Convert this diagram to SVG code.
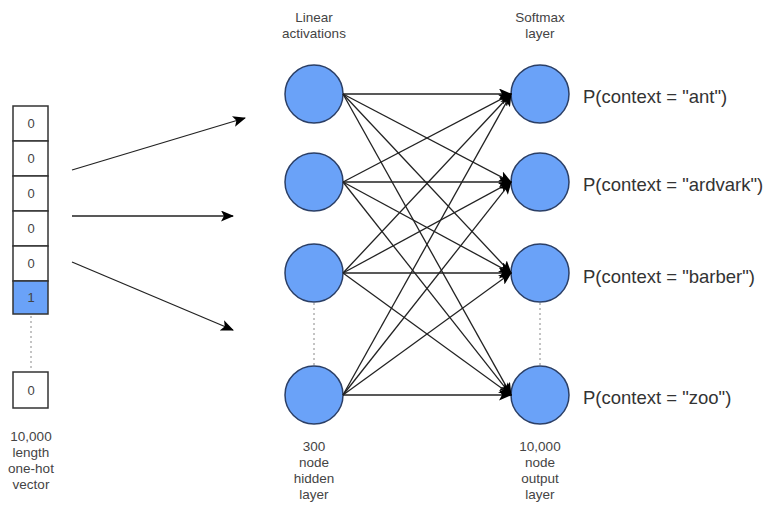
<svg xmlns="http://www.w3.org/2000/svg" width="768" height="510" viewBox="0 0 768 510">
<defs>
<marker id="ah" markerUnits="userSpaceOnUse" markerWidth="13" markerHeight="11" refX="12" refY="5.5" orient="auto">
<path d="M0,0 L13,5.5 L0,11 L3,5.5 Z" fill="#000"/>
</marker>
<style>
.cell{fill:#fff;stroke:#333;stroke-width:1.5}
.hot{fill:#6aa2f8;stroke:#333;stroke-width:1.5}
.node{fill:#6aa2f8;stroke:#2b3f66;stroke-width:1.5}
.num{font-family:"Liberation Sans",Arial,sans-serif;font-size:13px;fill:#444;text-anchor:middle}
.lbl{font-family:"Liberation Sans",Arial,sans-serif;font-size:13.5px;fill:#444;text-anchor:middle}
.p{font-family:"Liberation Sans",Arial,sans-serif;font-size:18.5px;fill:#333}
.dot{stroke:#888;stroke-width:1;stroke-dasharray:2 3;fill:none}
.c{stroke:#222;stroke-width:1.3;fill:none;marker-end:url(#ah)}
</style>
</defs>
<rect width="768" height="510" fill="#fff"/>
<g id="vector">
<rect class="cell" x="13" y="106" width="35" height="35"/>
<rect class="cell" x="13" y="141" width="35" height="35"/>
<rect class="cell" x="13" y="176" width="35" height="35"/>
<rect class="cell" x="13" y="211" width="35" height="35"/>
<rect class="cell" x="13" y="246" width="35" height="35"/>
<rect class="hot" x="13" y="281" width="35" height="33"/>
<rect class="cell" x="13" y="372" width="35" height="36"/>
<text class="num" x="31" y="128">0</text>
<text class="num" x="31" y="163">0</text>
<text class="num" x="31" y="198">0</text>
<text class="num" x="31" y="233">0</text>
<text class="num" x="31" y="268">0</text>
<text class="num" x="31" y="302">1</text>
<text class="num" x="31" y="395">0</text>
<line class="dot" x1="31" y1="316" x2="31" y2="371"/>
<text class="lbl" x="31" y="441">10,000</text>
<text class="lbl" x="31" y="457">length</text>
<text class="lbl" x="31" y="473">one-hot</text>
<text class="lbl" x="31" y="489">vector</text>
</g>
<g id="hidden">
<text class="lbl" x="314" y="22">Linear</text>
<text class="lbl" x="314" y="38">activations</text>
<circle id="h1" class="node" cx="314" cy="94" r="29"/>
<circle id="h2" class="node" cx="314" cy="182" r="29"/>
<circle id="h3" class="node" cx="314" cy="273" r="29"/>
<circle id="h4" class="node" cx="314" cy="395" r="29"/>
<line class="dot" x1="314" y1="303" x2="314" y2="365"/>
<text class="lbl" x="314" y="451">300</text>
<text class="lbl" x="314" y="467">node</text>
<text class="lbl" x="314" y="483">hidden</text>
<text class="lbl" x="314" y="499">layer</text>
</g>
<g id="output">
<text class="lbl" x="540" y="22">Softmax</text>
<text class="lbl" x="540" y="38">layer</text>
<circle id="o1" class="node" cx="540" cy="94" r="29"/>
<circle id="o2" class="node" cx="540" cy="182" r="29"/>
<circle id="o3" class="node" cx="540" cy="273" r="29"/>
<circle id="o4" class="node" cx="540" cy="395" r="29"/>
<line class="dot" x1="540" y1="303" x2="540" y2="365"/>
<text class="lbl" x="540" y="451">10,000</text>
<text class="lbl" x="540" y="467">node</text>
<text class="lbl" x="540" y="483">output</text>
<text class="lbl" x="540" y="499">layer</text>
</g>
<g id="probs">
<text class="p" x="583" y="103">P(context = "ant")</text>
<text class="p" x="583" y="191">P(context = "ardvark")</text>
<text class="p" x="583" y="283">P(context = "barber")</text>
<text class="p" x="583" y="404">P(context = "zoo")</text>
</g>
<g id="connectors">
<line class="c" x1="72" y1="170" x2="245" y2="118"/>
<line class="c" x1="72" y1="216" x2="233" y2="216"/>
<line class="c" x1="72" y1="262" x2="233" y2="330"/>
<line class="c" x1="343" y1="94" x2="511" y2="94"/>
<line class="c" x1="343" y1="94" x2="511" y2="182"/>
<line class="c" x1="343" y1="94" x2="511" y2="273"/>
<line class="c" x1="343" y1="94" x2="511" y2="395"/>
<line class="c" x1="343" y1="182" x2="511" y2="94"/>
<line class="c" x1="343" y1="182" x2="511" y2="182"/>
<line class="c" x1="343" y1="182" x2="511" y2="273"/>
<line class="c" x1="343" y1="182" x2="511" y2="395"/>
<line class="c" x1="343" y1="273" x2="511" y2="94"/>
<line class="c" x1="343" y1="273" x2="511" y2="182"/>
<line class="c" x1="343" y1="273" x2="511" y2="273"/>
<line class="c" x1="343" y1="273" x2="511" y2="395"/>
<line class="c" x1="343" y1="395" x2="511" y2="94"/>
<line class="c" x1="343" y1="395" x2="511" y2="182"/>
<line class="c" x1="343" y1="395" x2="511" y2="273"/>
<line class="c" x1="343" y1="395" x2="511" y2="395"/>
</g>
</svg>
